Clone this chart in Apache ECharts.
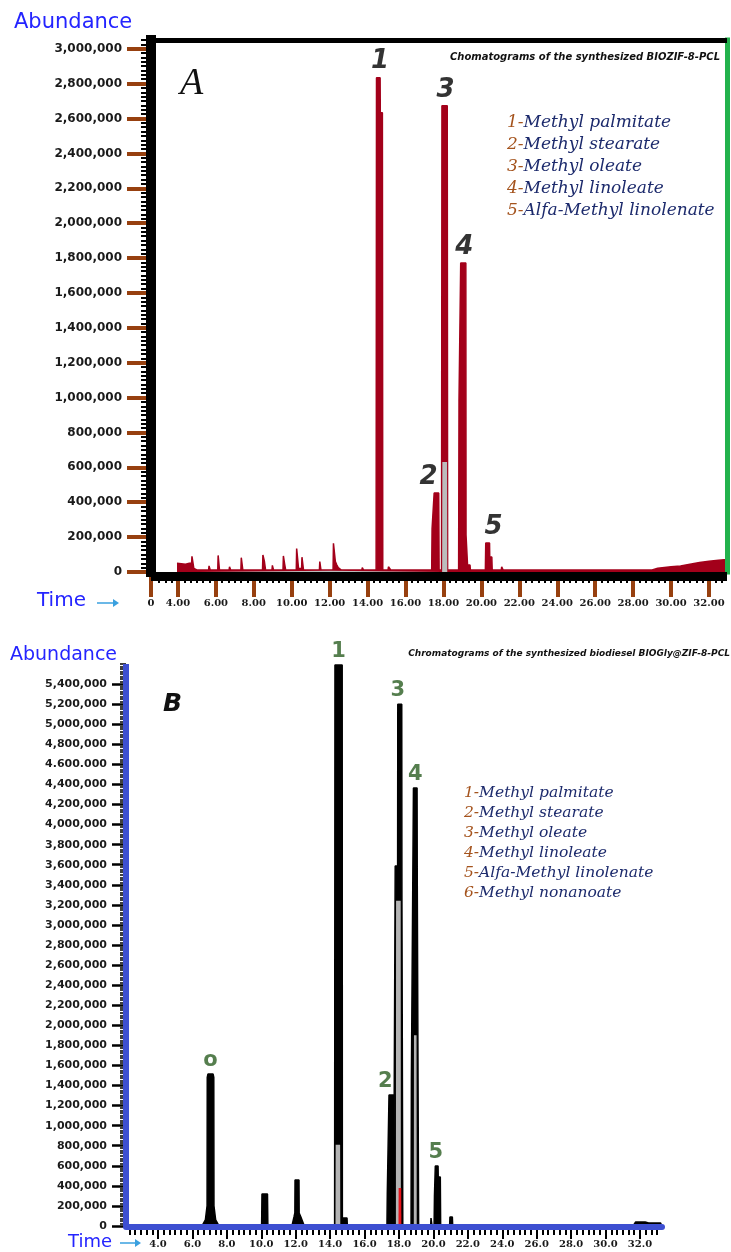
<!DOCTYPE html>
<html>
<head>
<meta charset="utf-8">
<script src="https://cdn.jsdelivr.net/npm/echarts@6/dist/echarts.min.js"></script>
<style>
html, body { margin: 0; padding: 0; background: #ffffff; }
#chart { width: 731px; height: 1252px; }
</style>
</head>
<body>
<div id="chart"></div>
<script>
// ---------- Panel A: chromatogram of BIOZIF-8-PCL (retention time, abundance) ----------
const traceA = [
  [3.95, 50000], [4.4, 45000], [4.5, 35000], [4.6, 50000], [4.72, 50000], [4.74, 90000], [4.82, 90000], [4.84, 20000], [5.0, 12000],
  [5.62, 12000], [5.64, 35000], [5.68, 35000], [5.7, 12000],
  [6.1, 12000], [6.12, 95000], [6.17, 95000], [6.19, 12000],
  [6.7, 12000], [6.72, 30000], [6.76, 30000], [6.78, 12000],
  [7.32, 12000], [7.34, 82000], [7.4, 82000], [7.42, 12000],
  [7.78, 12000], [7.8, 22000], [7.84, 22000], [7.86, 12000],
  [8.46, 12000], [8.48, 98000], [8.54, 98000], [8.56, 60000], [8.6, 60000], [8.62, 12000],
  [8.96, 12000], [8.98, 38000], [9.02, 38000], [9.04, 12000],
  [9.54, 12000], [9.56, 92000], [9.6, 92000], [9.62, 50000], [9.66, 50000], [9.68, 12000],
  [10.24, 12000], [10.26, 135000], [10.34, 135000], [10.36, 20000],
  [10.52, 20000], [10.54, 85000], [10.6, 85000], [10.62, 12000],
  [11.46, 12000], [11.48, 60000], [11.52, 60000], [11.54, 12000],
  [12.18, 12000], [12.2, 165000], [12.28, 165000], [12.3, 60000], [12.38, 40000], [12.45, 25000], [12.6, 12000],
  [13.7, 12000], [13.72, 25000], [13.76, 25000], [13.78, 12000],
  [14.45, 12000], [14.47, 2834000], [14.66, 2834000], [14.67, 2633000], [14.78, 2633000], [14.8, 12000],
  [15.08, 12000], [15.1, 30000], [15.2, 30000], [15.22, 12000],
  [17.38, 12000], [17.4, 247000], [17.5, 247000], [17.51, 453000], [17.75, 453000], [17.77, 12000],
  [17.9, 12000], [17.92, 2673000], [18.2, 2673000], [18.22, 12000],
  [18.8, 12000], [18.82, 980000], [18.9, 980000], [18.91, 1772000], [19.18, 1772000], [19.19, 212000], [19.25, 212000], [19.27, 40000], [19.4, 40000], [19.42, 12000],
  [20.21, 12000], [20.23, 166000], [20.43, 166000], [20.44, 86000], [20.55, 86000], [20.57, 12000],
  [21.05, 12000], [21.07, 30000], [21.12, 30000], [21.14, 12000],
  [29.0, 12000], [29.3, 22000], [30.0, 30000], [30.5, 35000], [31.0, 45000], [31.5, 55000], [32.0, 62000], [32.5, 68000], [32.95, 72000]
];
// grey portions of the trace (baseline band, lower body of peak 3)
const shadeA = [
  [5.0, 0], [5.0, 7000], [12.0, 7000], [12.0, 0],
  [17.93, 0], [17.94, 630000], [18.19, 630000], [18.2, 0]
];
const peakIdsA = ['1', '2', '3', '4', '5'];
const peakTimesA = [14.6, 17.63, 18.06, 19.05, 20.33];
const peakHeightsA = [2834000, 453000, 2673000, 1772000, 166000];
const yTicksA = [0, 200000, 400000, 600000, 800000, 1000000, 1200000, 1400000, 1600000, 1800000, 2000000, 2200000, 2400000, 2600000, 2800000, 3000000];
const yLabelsA = ['0', '200,000', '400,000', '600,000', '800,000', '1,000,000', '1,200,000', '1,400,000', '1,600,000', '1,800,000', '2,000,000', '2,200,000', '2,400,000', '2,600,000', '2,800,000', '3,000,000'];
const xTicksA = [2.58, 4, 6, 8, 10, 12, 14, 16, 18, 20, 22, 24, 26, 28, 30, 32];
const xLabelsA = ['0', '4.00', '6.00', '8.00', '10.00', '12.00', '14.00', '16.00', '18.00', '20.00', '22.00', '24.00', '26.00', '28.00', '30.00', '32.00'];
const compoundsA = ['Methyl palmitate', 'Methyl stearate', 'Methyl oleate', 'Methyl linoleate', 'Alfa-Methyl linolenate'];

// ---------- Panel B: chromatogram of biodiesel BIOGly@ZIF-8-PCL ----------
const traceB = [
  [2.2, 0], [6.55, 0], [6.75, 60000], [6.85, 200000], [6.86, 1480000], [6.9, 1514000], [7.2, 1514000], [7.24, 1480000], [7.25, 200000], [7.35, 60000], [7.55, 0],
  [9.95, 0], [10.02, 20000], [10.04, 319000], [10.36, 319000], [10.38, 20000], [10.45, 0],
  [11.78, 0], [11.9, 90000], [11.95, 130000], [11.96, 458000], [12.19, 458000], [12.2, 130000], [12.3, 90000], [12.5, 0],
  [14.26, 0], [14.28, 5590000], [14.7, 5590000], [14.71, 80000], [14.98, 80000], [15.0, 0],
  [17.3, 0], [17.32, 319000], [17.41, 319000], [17.42, 1305000], [17.67, 1305000], [17.69, 0],
  [17.76, 0], [17.78, 3587000], [17.92, 3587000], [17.93, 5200000], [18.16, 5200000], [18.17, 3300000], [18.2, 3300000], [18.22, 0],
  [18.7, 0], [18.72, 1455000], [18.83, 1455000], [18.84, 4364000], [19.05, 4364000], [19.06, 3517000], [19.12, 3517000], [19.14, 0],
  [19.84, 0], [19.86, 80000], [19.9, 80000], [19.92, 0],
  [20.04, 0], [20.06, 300000], [20.1, 300000], [20.11, 598000], [20.27, 598000], [20.28, 488000], [20.4, 488000], [20.42, 0],
  [20.94, 0], [20.96, 90000], [21.1, 90000], [21.12, 0],
  [31.6, 0], [31.75, 40000], [32.3, 40000], [32.5, 30000], [33.2, 30000], [33.27, 0]
];
// grey interiors of peaks 1, 3 and 4
const shadeB = [
  [14.31, 0], [14.32, 810000], [14.58, 810000], [14.59, 0],
  [17.82, 0], [17.83, 3240000], [18.1, 3240000], [18.11, 0],
  [18.86, 0], [18.87, 1900000], [19.02, 1900000], [19.03, 0]
];
// red inner section of peak 3
const redB = [[17.97, 0], [17.98, 379000], [18.13, 379000], [18.14, 0]];
const peakIdsB = ['o', '1', '2', '3', '4', '5'];
const peakTimesB = [7.05, 14.49, 17.55, 18.05, 18.95, 20.19];
const peakHeightsB = [1514000, 5590000, 1305000, 5200000, 4364000, 598000];
const yTicksB = [0, 200000, 400000, 600000, 800000, 1000000, 1200000, 1400000, 1600000, 1800000, 2000000, 2200000, 2400000, 2600000, 2800000, 3000000, 3200000, 3400000, 3600000, 3800000, 4000000, 4200000, 4400000, 4600000, 4800000, 5000000, 5200000, 5400000];
const yLabelsB = ['0', '200,000', '400,000', '600,000', '800,000', '1,000,000', '1,200,000', '1,400,000', '1,600,000', '1,800,000', '2,000,000', '2,200,000', '2,400,000', '2,600,000', '2,800,000', '3,000,000', '3,200,000', '3,400,000', '3,600,000', '3,800,000', '4,000,000', '4,200,000', '4,400,000', '4.600.000', '4,800,000', '5,000,000', '5,200,000', '5,400,000'];
const xTicksB = [4, 6, 8, 10, 12, 14, 16, 18, 20, 22, 24, 26, 28, 30, 32];
const xLabelsB = ['4.0', '6.0', '8.0', '10.0', '12.0', '14.0', '16.0', '18.0', '20.0', '22.0', '24.0', '26.0', '28.0', '30.0', '32.0'];
const compoundsB = ['Methyl palmitate', 'Methyl stearate', 'Methyl oleate', 'Methyl linoleate', 'Alfa-Methyl linolenate', 'Methyl nonanoate'];

// ---------- helpers ----------
const lookup = (ticks, labels) => v => {
  const i = ticks.findIndex(t => Math.abs(t - v) < 1e-6);
  return i < 0 ? '' : labels[i];
};
// small ruler ticks: every `step`, skipping the labelled positions
function rulerTicks(from, to, step, majors) {
  const out = [];
  for (let k = Math.ceil(from / step); k * step <= to + 1e-9; k++) {
    const v = k * step;
    if (!majors.some(m => Math.abs(m - v) < 1e-6)) out.push(v);
  }
  return out;
}
// an axis that only draws a plain line (frames and thick base lines)
function lineAxis(grid, range, position, color, width, cap, extra) {
  return Object.assign({
    gridIndex: grid, type: 'value', min: range[0], max: range[1], position: position, z: 5,
    axisLine: { show: true, onZero: false, lineStyle: { color: color, width: width, cap: cap } },
    axisTick: { show: false }, axisLabel: { show: false }, splitLine: { show: false }
  }, extra || {});
}

const A_X = [2.58, 32.95], A_Y = [0, 3050000];
const B_X = [2.14, 33.28], B_Y = [0, 5600000];
const brown = '#97400f';
const red = '#a3001a';
const blue = '#3d4fd1';
const hidden = { show: false, onZero: false };

const tagsA = peakIdsA.map((id, i) => ({
  value: [peakTimesA[i], peakHeightsA[i]], name: id,
  label: { offset: [[1, -8, 1, 1, 6][i], 0] }
}));
const tagsB = peakIdsB.map((id, i) => ({
  value: [peakTimesB[i], peakHeightsB[i]], name: id,
  label: { offset: [[0, 0, -6, -2, 0, -1][i], 0] }
}));

function legendLines(names, x, y0, dy, size) {
  return names.map((n, i) => ({
    type: 'text', x: x, y: y0 + i * dy, z: 10,
    style: {
      text: '{n|' + (i + 1) + '-}{t|' + n + '}',
      textVerticalAlign: 'middle',
      rich: {
        n: { fontFamily: 'DejaVu Serif', fontStyle: 'italic', fontSize: size, fill: '#a4531d' },
        t: { fontFamily: 'DejaVu Serif', fontStyle: 'italic', fontSize: size, fill: '#1c2a6c' }
      }
    }
  }));
}
function arrow(x0, x1, y) {
  return [
    { type: 'line', z: 10, shape: { x1: x0, y1: y, x2: x1 - 4, y2: y }, style: { stroke: '#3aa0df', lineWidth: 1.5 } },
    { type: 'polygon', z: 10, shape: { points: [[x1 - 6, y - 4], [x1, y], [x1 - 6, y + 4]] }, style: { fill: '#3aa0df' } }
  ];
}

const chart = echarts.init(document.getElementById('chart'), null, { renderer: 'canvas' });

const option = {
  backgroundColor: '#ffffff',
  animation: false,
  grid: [
    { left: 151, top: 40, width: 576, height: 532 },
    { left: 126, top: 664, width: 536, height: 562 }
  ],
  xAxis: [
    // 0: A labels + brown ticks
    { gridIndex: 0, type: 'value', min: A_X[0], max: A_X[1], position: 'bottom', offset: 4,
      axisLine: hidden, splitLine: { show: false },
      axisTick: { customValues: xTicksA, length: 21, lineStyle: { color: brown, width: 4 } },
      axisLabel: { customValues: xTicksA, formatter: lookup(xTicksA, xLabelsA), margin: 22,
        fontFamily: 'DejaVu Serif', fontWeight: 'bold', fontSize: 10, color: '#1a1a1a' } },
    // 1: A ruler ticks
    { gridIndex: 0, type: 'value', min: A_X[0], max: A_X[1], position: 'bottom', offset: 4,
      axisLine: hidden, splitLine: { show: false }, axisLabel: { show: false },
      axisTick: { customValues: rulerTicks(2.7, A_X[1], 1 / 3, xTicksA), length: 7, lineStyle: { color: '#000', width: 2 } } },
    // 2: A thick base line, 3: A top frame
    lineAxis(0, A_X, 'bottom', '#000', 9, 'butt', { offset: 4 }),
    lineAxis(0, A_X, 'top', '#000', 5, 'butt'),
    // 4: B labels + ticks
    { gridIndex: 1, type: 'value', min: B_X[0], max: B_X[1], position: 'bottom', offset: 1,
      axisLine: hidden, splitLine: { show: false },
      axisTick: { customValues: xTicksB, length: 12, lineStyle: { color: '#000', width: 2 } },
      axisLabel: { customValues: xTicksB, formatter: lookup(xTicksB, xLabelsB), margin: 12,
        fontFamily: 'DejaVu Serif', fontWeight: 'bold', fontSize: 10, color: '#1a1a1a' } },
    // 5: B ruler ticks
    { gridIndex: 1, type: 'value', min: B_X[0], max: B_X[1], position: 'bottom', offset: 1,
      axisLine: hidden, splitLine: { show: false }, axisLabel: { show: false },
      axisTick: { customValues: rulerTicks(2.3, 33.1, 1 / 3, xTicksB), length: 8, lineStyle: { color: '#000', width: 2 } } },
    // 6: B blue base line
    lineAxis(1, B_X, 'bottom', blue, 6, 'round', { offset: 1 })
  ],
  yAxis: [
    // 0: A labels + brown ticks
    { gridIndex: 0, type: 'value', min: A_Y[0], max: A_Y[1], position: 'left',
      axisLine: hidden, splitLine: { show: false },
      axisTick: { customValues: yTicksA, length: 24, lineStyle: { color: brown, width: 4 } },
      axisLabel: { customValues: yTicksA, formatter: lookup(yTicksA, yLabelsA), margin: 29,
        fontFamily: 'DejaVu Sans', fontWeight: 'bold', fontSize: 12, color: '#1a1a1a' } },
    // 1: A ruler ticks
    { gridIndex: 0, type: 'value', min: A_Y[0], max: A_Y[1], position: 'left',
      axisLine: hidden, splitLine: { show: false }, axisLabel: { show: false },
      axisTick: { customValues: rulerTicks(0, A_Y[1], 25000, yTicksA), length: 10, lineStyle: { color: '#000', width: 2 } } },
    // 2: A thick vertical line, 3: A green right frame
    lineAxis(0, A_Y, 'left', '#000', 10, 'square'),
    lineAxis(0, A_Y, 'right', '#22b24c', 5, 'square'),
    // 4: B labels + ticks
    { gridIndex: 1, type: 'value', min: B_Y[0], max: B_Y[1], position: 'left',
      axisLine: hidden, splitLine: { show: false },
      axisTick: { customValues: yTicksB, length: 14, lineStyle: { color: '#000', width: 2.5 } },
      axisLabel: { customValues: yTicksB, formatter: lookup(yTicksB, yLabelsB), margin: 19,
        fontFamily: 'DejaVu Sans', fontWeight: 'bold', fontSize: 11, color: '#1a1a1a' } },
    // 5: B ruler ticks
    { gridIndex: 1, type: 'value', min: B_Y[0], max: B_Y[1], position: 'left',
      axisLine: hidden, splitLine: { show: false }, axisLabel: { show: false },
      axisTick: { customValues: rulerTicks(0, B_Y[1], 25000, yTicksB), length: 6, lineStyle: { color: '#000', width: 1.5 } } },
    // 6: B blue vertical line
    lineAxis(1, B_Y, 'left', blue, 6, 'butt')
  ],
  series: [
    { name: 'BIOZIF-8-PCL', type: 'line', xAxisIndex: 0, yAxisIndex: 0, data: traceA,
      showSymbol: false, symbol: 'none', z: 2,
      lineStyle: { color: red, width: 1.5 }, areaStyle: { color: red, opacity: 1 } },
    { name: 'BIOZIF-8-PCL grey', type: 'line', xAxisIndex: 0, yAxisIndex: 0, data: shadeA,
      showSymbol: false, symbol: 'none', z: 3,
      lineStyle: { width: 0 }, areaStyle: { color: '#bcbcbc', opacity: 1 } },
    { name: 'peaks A', type: 'scatter', xAxisIndex: 0, yAxisIndex: 0, data: tagsA,
      symbolSize: 0, z: 6,
      label: { show: true, position: 'top', distance: 3, formatter: p => p.name,
        fontFamily: 'DejaVu Sans', fontWeight: 'bold', fontStyle: 'italic', fontSize: 26, color: '#000' } },
    { name: 'BIOGly@ZIF-8-PCL', type: 'line', xAxisIndex: 4, yAxisIndex: 4, data: traceB,
      showSymbol: false, symbol: 'none', z: 2,
      lineStyle: { color: '#000', width: 1.5 }, areaStyle: { color: '#000', opacity: 1 } },
    { name: 'BIOGly@ZIF-8-PCL grey', type: 'line', xAxisIndex: 4, yAxisIndex: 4, data: shadeB,
      showSymbol: false, symbol: 'none', z: 3,
      lineStyle: { width: 0 }, areaStyle: { color: '#b4b4b4', opacity: 1 } },
    { name: 'BIOGly@ZIF-8-PCL red', type: 'line', xAxisIndex: 4, yAxisIndex: 4, data: redB,
      showSymbol: false, symbol: 'none', z: 4,
      lineStyle: { width: 0 }, areaStyle: { color: '#e8141c', opacity: 1 } },
    { name: 'peaks B', type: 'scatter', xAxisIndex: 4, yAxisIndex: 4, data: tagsB,
      symbolSize: 0, z: 6,
      label: { show: true, position: 'top', distance: 3, formatter: p => p.name,
        fontFamily: 'DejaVu Sans', fontWeight: 'bold', fontSize: 21, color: '#2b5e22' } }
  ],
  graphic: [
    { type: 'text', x: 14, y: 23, z: 10, style: { text: 'Abundance', fontFamily: 'DejaVu Sans', fontSize: 21, fill: '#2424ff', textVerticalAlign: 'middle' } },
    { type: 'text', x: 37, y: 601, z: 10, style: { text: 'Time', fontFamily: 'DejaVu Sans', fontSize: 20, fill: '#2424ff', textVerticalAlign: 'middle' } },
    ...arrow(97, 119, 603),
    { type: 'text', x: 180, y: 84, z: 10, style: { text: 'A', fontFamily: 'Liberation Serif', fontStyle: 'italic', fontSize: 38, fill: '#111', textVerticalAlign: 'middle' } },
    { type: 'text', x: 720, y: 57, z: 10, style: { text: 'Chomatograms of the synthesized BIOZIF-8-PCL', fontFamily: 'DejaVu Sans', fontWeight: 'bold', fontStyle: 'italic', fontSize: 10, fill: '#111', textAlign: 'right', textVerticalAlign: 'middle' } },
    ...legendLines(compoundsA, 507, 123, 22, 17),

    { type: 'text', x: 10, y: 655, z: 10, style: { text: 'Abundance', fontFamily: 'DejaVu Sans', fontSize: 19, fill: '#2424ff', textVerticalAlign: 'middle' } },
    { type: 'text', x: 68, y: 1242, z: 10, style: { text: 'Time', fontFamily: 'DejaVu Sans', fontSize: 18, fill: '#2424ff', textVerticalAlign: 'middle' } },
    ...arrow(120, 141, 1243),
    { type: 'text', x: 163, y: 704, z: 10, style: { text: 'B', fontFamily: 'DejaVu Sans', fontWeight: 'bold', fontStyle: 'italic', fontSize: 25, fill: '#111', textVerticalAlign: 'middle' } },
    { type: 'text', x: 730, y: 654, z: 10, style: { text: 'Chromatograms of the synthesized biodiesel BIOGly@ZIF-8-PCL', fontFamily: 'DejaVu Sans', fontWeight: 'bold', fontStyle: 'italic', fontSize: 9, fill: '#111', textAlign: 'right', textVerticalAlign: 'middle' } },
    ...legendLines(compoundsB, 464, 793, 20, 15.5)
  ]
};

chart.setOption(option);
</script>
</body>
</html>
